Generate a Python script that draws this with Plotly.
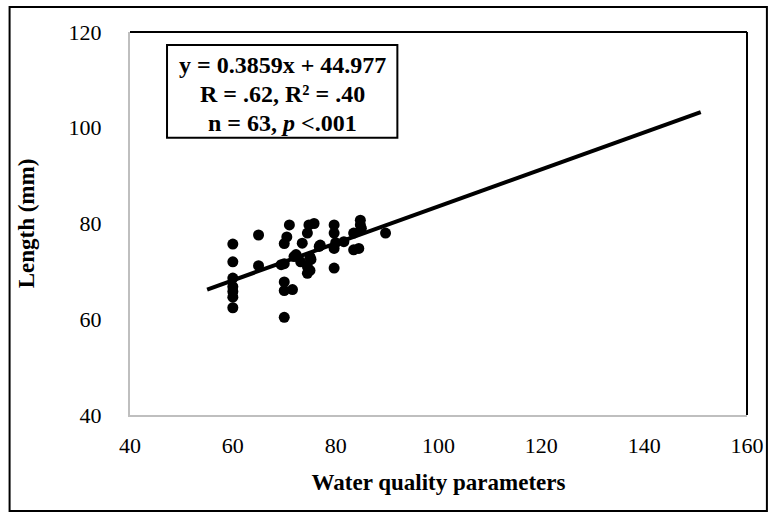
import plotly.graph_objects as go

# Data
x_vals = [60, 60, 60, 60, 60, 60, 60,
          65, 65,
          69.4, 70, 70, 70, 70, 70, 70.5,
          71, 71.9, 71.6, 72.3,
          73.5, 73.2, 74.5, 74.5,
          74.8, 74.5, 75, 75, 75.2,
          75.8, 76.8, 77,
          79.7, 79.7, 79.7, 79.7, 80,
          81.6, 83.5, 83.5,
          84.8, 84.8, 84.5, 85,
          89.7]
y_vals = [75.7, 72.0, 68.6, 66.8, 65.8, 64.6, 62.4,
          77.6, 71.2,
          71.4, 75.8, 71.6, 67.8, 66.0, 60.4, 77.2,
          79.7, 73.1, 66.2, 73.5,
          75.9, 72.0, 71.0, 69.6,
          79.7, 78.0, 70.2, 73.0, 72.5,
          80.0, 75.2, 75.5,
          79.7, 78.0, 74.8, 70.7, 76.0,
          76.2, 78.0, 74.5,
          80.7, 79.7, 74.8, 79.0,
          78.0]

slope = 0.3859
intercept = 44.977
trend_x = [55, 151]
trend_y = [slope * v + intercept for v in trend_x]

x_ticks = [40, 60, 80, 100, 120, 140, 160]
y_ticks = [40, 60, 80, 100, 120]

stat_lines = ["y = 0.3859x + 44.977", "R = .62, R² = .40", "n = 63, <i>p</i> <.001"]

FONT = "Liberation Serif, Times New Roman, serif"

fig = go.Figure()
fig.add_trace(go.Scatter(x=trend_x, y=trend_y, mode="lines",
                         line=dict(color="black", width=4), showlegend=False))
fig.add_trace(go.Scatter(x=x_vals, y=y_vals, mode="markers",
                         marker=dict(color="black", size=11), showlegend=False))

# stats box
fig.add_shape(type="rect", xref="x", yref="y", x0=47.2, x1=92.0, y0=97.9, y1=117.3,
              line=dict(color="black", width=2), fillcolor="white", layer="above")
for txt, yy in zip(stat_lines, [113.2, 107.1, 101.0]):
    fig.add_annotation(x=69.6, y=yy, xref="x", yref="y", text="<b>" + txt + "</b>",
                       showarrow=False, font=dict(family=FONT, size=24, color="black"))

# top and right black plot border
fig.add_shape(type="line", xref="paper", yref="paper", x0=0, x1=1, y0=1, y1=1,
              line=dict(color="black", width=2))
fig.add_shape(type="line", xref="paper", yref="paper", x0=1, x1=1, y0=0, y1=1,
              line=dict(color="black", width=2))
# outer chart border
fig.add_shape(type="rect", xref="paper", yref="paper",
              x0=(9 - 130) / 620, x1=(770 - 130) / 620,
              y0=(415 - 511) / 383, y1=(415 - 7) / 383,
              line=dict(color="black", width=2))

fig.update_layout(
    width=776, height=518,
    margin=dict(l=130, r=26, t=32, b=103),
    paper_bgcolor="white", plot_bgcolor="white",
    font=dict(family=FONT, size=22, color="black"),
    xaxis=dict(range=[40, 160], tickvals=x_ticks, showgrid=False, zeroline=False,
               showline=True, linecolor="#bfbfbf", linewidth=2, ticks="",
               ticklabelstandoff=10,
               title=dict(text="<b>Water quality parameters</b>", standoff=16,
                          font=dict(family=FONT, size=23))),
    yaxis=dict(range=[40, 120], tickvals=y_ticks, showgrid=False, zeroline=False,
               showline=True, linecolor="#bfbfbf", linewidth=2, ticks="",
               ticklabelstandoff=22,
               title=dict(text="<b>Length (mm)</b>", standoff=28,
                          font=dict(family=FONT, size=23))),
)

fig.write_html("out.html")
